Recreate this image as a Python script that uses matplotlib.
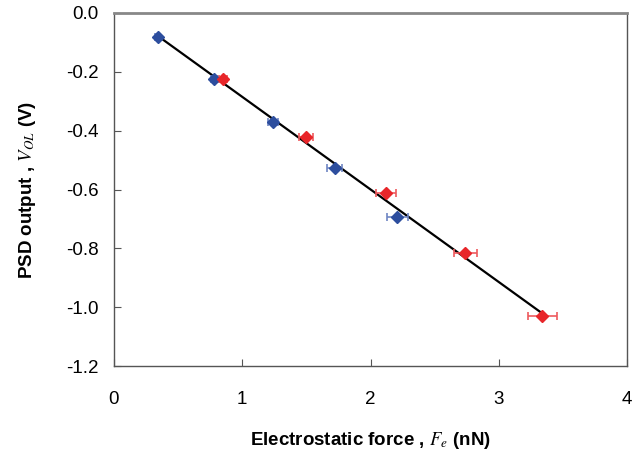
import numpy as np
import matplotlib
matplotlib.use("Agg")
import matplotlib.pyplot as plt

plt.rcParams['font.family'] = ['Liberation Sans', 'DejaVu Sans']
plt.rcParams['mathtext.fontset'] = 'stix'
plt.rcParams['axes.unicode_minus'] = False

# blue series
blue_x = [0.34, 0.78, 1.24, 1.72, 2.21]
blue_y = [-0.082, -0.224, -0.371, -0.527, -0.694]
blue_xerr = [0.02, 0.02, 0.04, 0.06, 0.08]

# red series
red_x = [0.85, 1.50, 2.12, 2.74, 3.34]
red_y = [-0.224, -0.422, -0.612, -0.816, -1.031]
red_xerr = [0.03, 0.055, 0.08, 0.09, 0.11]

xticks = [0, 1, 2, 3, 4]
yticks = [0.0, -0.2, -0.4, -0.6, -0.8, -1.0, -1.2]

fig = plt.figure(figsize=(6.35, 4.57), dpi=100)
ax = fig.add_axes([0.1795, 0.199, 0.808, 0.7726])

# linear fit through all points
all_x = np.array(blue_x + red_x)
all_y = np.array(blue_y + red_y)
k, b = np.polyfit(all_x, all_y, 1)
fx = np.array([all_x.min(), all_x.max()])
ax.plot(fx, k * fx + b, color='black', lw=1.6, zorder=2)

ax.errorbar(blue_x, blue_y, xerr=blue_xerr, fmt='D', color='#2D4E9E',
            ecolor='#6F86C4', elinewidth=1.2, capsize=3, capthick=1.2,
            markersize=6.5, zorder=3)
ax.errorbar(red_x, red_y, xerr=red_xerr, fmt='D', color='#E8262A',
            ecolor='#EE5A5D', elinewidth=1.2, capsize=3, capthick=1.2,
            markersize=6.5, zorder=3)

ax.set_xlim(0, 4)
ax.set_ylim(-1.2, 0.0)
ax.set_xticks(xticks)
ax.set_yticks(yticks)
ax.set_yticklabels(['%.1f' % v for v in yticks])
ax.tick_params(direction='in', labelsize=13.5, length=5, color='#555555')
ax.tick_params(axis='x', pad=18)
ax.tick_params(axis='y', pad=11)
for s in ax.spines.values():
    s.set_color('#555555')
    s.set_linewidth(1.0)
ax.spines['top'].set_color('#888888')
ax.spines['top'].set_linewidth(2)

ax.set_xlabel('Electrostatic force , $F_e$ (nN)', fontsize=13.5, fontweight='bold', labelpad=16)
ax.set_ylabel('PSD output , $V_{OL}$ (V)', fontsize=13.5, fontweight='bold', labelpad=20)

fig.savefig('out.png', dpi=100)
